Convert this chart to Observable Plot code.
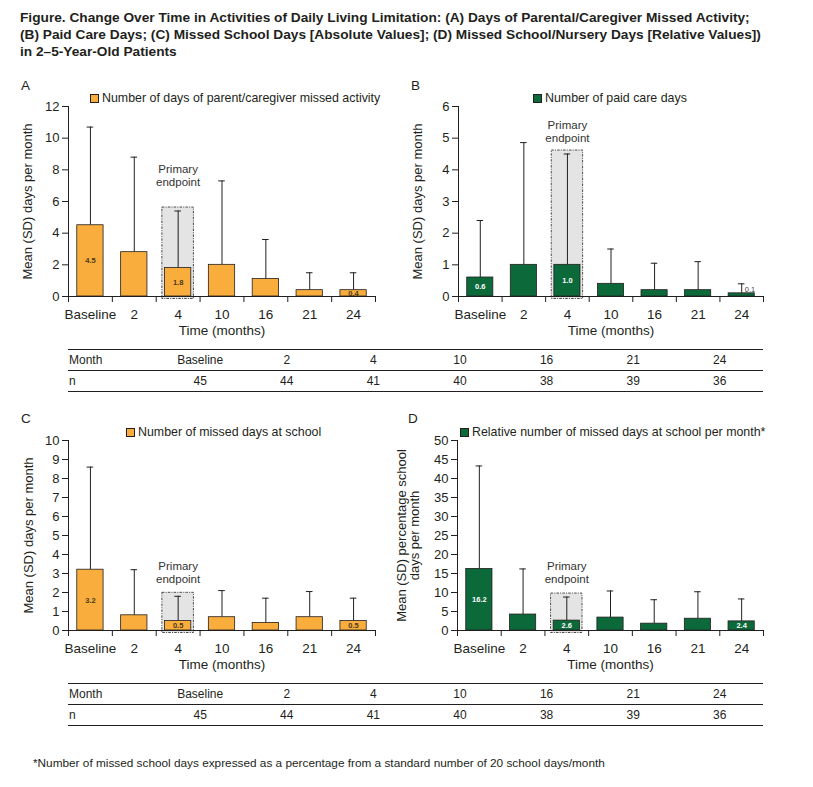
<!DOCTYPE html>
<html>
<head>
<meta charset="utf-8">
<script src="https://cdn.jsdelivr.net/npm/d3@7"></script>
<script src="https://cdn.jsdelivr.net/npm/@observablehq/plot@0.6"></script>
<style>
  body { margin: 0; background: #fff; }
  #page { position: relative; width: 813px; height: 787px; overflow: hidden; font-family: "Liberation Sans", Arial, Helvetica, sans-serif; color: #231f20; }
  .abs { position: absolute; }
  .title { left: 20px; top: 9px; font-weight: bold; font-size: 13.7px; line-height: 17px; white-space: nowrap; }
  .plabel { font-size: 13.5px; }
  .legend { font-size: 12.4px; white-space: nowrap; display: flex; align-items: center; }
  .legend .sw { width: 7px; height: 7px; border: 0.8px solid #231f20; margin-right: 3px; }
  .tbl { left: 68px; width: 695px; border-top: 1px solid #231f20; font-size: 12px; }
  .tbl .row { display: flex; border-bottom: 1px solid #231f20; height: 20px; align-items: center; }
  .tbl .row .c0 { width: 88px; text-align: left; padding-left: 1px; }
  .tbl .row .c { width: 86.7px; text-align: center; }
  .foot { left: 33px; top: 756px; font-size: 11.8px; white-space: nowrap; }
</style>
</head>
<body>
<div id="page"></div>
<script>
// ---- data ----
const months = ["Baseline", "2", "4", "10", "16", "21", "24"];
const nPatients = [45, 44, 41, 40, 38, 39, 36];
const primaryMonth = "4";
const labelledMonths = ["Baseline", "4", "24"];

const caregiverMean = [4.5, 2.8, 1.8, 2.0, 1.1, 0.4, 0.4];
const caregiverSD   = [6.2, 6.0, 3.6, 5.3, 2.5, 1.1, 1.1];

const paidCareMean = [0.6, 1.0, 1.0, 0.4, 0.2, 0.2, 0.1];
const paidCareSD   = [1.8, 3.86, 3.5, 1.1, 0.85, 0.9, 0.3];

const schoolMean = [3.2, 0.8, 0.5, 0.7, 0.4, 0.7, 0.5];
const schoolSD   = [5.4, 2.4, 1.3, 1.4, 1.3, 1.35, 1.2];

const relativeMean = [16.2, 4.2, 2.6, 3.4, 1.8, 3.1, 2.4];
const relativeSD   = [27.1, 12.0, 6.2, 7.0, 6.3, 7.1, 5.9];

const yTicksA = [0, 2, 4, 6, 8, 10, 12];
const yTicksB = [0, 1, 2, 3, 4, 5, 6];
const yTicksC = [0, 1, 2, 3, 4, 5, 6, 7, 8, 9, 10];
const yTicksD = [0, 5, 10, 15, 20, 25, 30, 35, 40, 45, 50];

const ORANGE = "#f8ad3c";
const GREEN = "#0c693a";
const INK = "#231f20";
const FONT = "'Liberation Sans', Arial, Helvetica, sans-serif";

const page = document.getElementById("page");

function addDiv(cls, html, style) {
  const d = document.createElement("div");
  d.className = "abs " + cls;
  d.innerHTML = html;
  Object.assign(d.style, style || {});
  page.appendChild(d);
  return d;
}

addDiv("title",
  "Figure. Change Over Time in Activities of Daily Living Limitation: (A) Days of Parental/Caregiver Missed Activity;<br>" +
  "(B) Paid Care Days; (C) Missed School Days [Absolute Values]; (D) Missed School/Nursery Days [Relative Values])<br>" +
  "in 2\u20135-Year-Old Patients");

function panel(cfg) {
  const {mean, sd, ymax, yticks, color, ylabel, labelOffset, width, marginLeft, marginRight, noteGap, labelDark} = cfg;
  const data = months.map((m, i) => ({i, m, mean: mean[i], top: mean[i] + sd[i]}));
  const boundaries = d3.range(months.length + 1).map(k => k - 0.5);
  const idx = d3.range(months.length);
  const pi = months.indexOf(primaryMonth);
  const primary = [data[pi]];
  const plotH = 190;
  const lab = data.filter(d => labelledMonths.includes(d.m));
  const inside = lab.filter(d => d.mean / ymax * plotH >= 5);
  const outside = lab.filter(d => d.mean / ymax * plotH < 5);
  return Plot.plot({
    width, height: 260, marginLeft, marginRight, marginTop: 26, marginBottom: 44,
    style: {fontFamily: FONT, fontSize: "13.5px", color: INK, background: "transparent", overflow: "visible"},
    x: {domain: [-0.5, months.length - 0.5]},
    y: {domain: [0, ymax]},
    marks: [
      Plot.rect(primary, {x1: d => d.i - 0.36, x2: d => d.i + 0.36, y1: 0, y2: "top", insetTop: -3.5, insetBottom: -2.5,
        fill: "#e4e4e4", stroke: INK, strokeWidth: 0.8, strokeDasharray: "2.5,1.2,1,1.2"}),
      Plot.text(primary, {x: "i", y: "top", text: () => "Primary\nendpoint", dy: -3.5 - noteGap, lineAnchor: "bottom",
        fontSize: 11.5, lineHeight: 1.12, fill: "#333"}),
      Plot.ruleX(data, {x: "i", y1: "mean", y2: "top", stroke: INK, strokeWidth: 1}),
      Plot.ruleY(data, {y: "top", x1: d => d.i - 0.075, x2: d => d.i + 0.075, stroke: INK, strokeWidth: 1}),
      Plot.rect(data, {x1: d => d.i - 0.3, x2: d => d.i + 0.3, y1: 0, y2: "mean", fill: color, stroke: INK, strokeWidth: 0.8}),
      Plot.text(inside, {x: "i", y: d => d.mean / 2, text: d => d.mean.toFixed(1), fontSize: 7.5, fontWeight: "bold",
        fill: labelDark ? "#4a3a20" : "#fff"}),
      Plot.text(outside, {x: "i", y: "mean", text: d => d.mean.toFixed(1), dx: 3, dy: -1, textAnchor: "start", lineAnchor: "bottom",
        fontSize: 7.5, fill: "#444"}),
      Plot.ruleX([-0.5], {stroke: INK, strokeWidth: 1}),
      Plot.ruleY([0], {stroke: INK, strokeWidth: 1}),
      Plot.axisY(yticks, {tickSize: 6, tickPadding: 3, fontSize: 13, stroke: INK, label: ylabel, labelAnchor: "center", labelArrow: "none", labelOffset}),
      Plot.axisX(boundaries, {tickSize: 6, tickFormat: () => "", label: null, stroke: INK}),
      Plot.axisX(idx, {tickSize: 0, tickPadding: 13, tickFormat: i => months[i], fontSize: 13.5,
        label: "Time (months)", labelAnchor: "center", labelArrow: "none", labelOffset: 38})
    ]
  });
}

function place(svg, left, top) {
  svg.style.position = "absolute";
  svg.style.left = left + "px";
  svg.style.top = top + "px";
  page.appendChild(svg);
}

place(panel({mean: caregiverMean, sd: caregiverSD, ymax: 12, yticks: yTicksA, color: ORANGE, labelDark: true,
  ylabel: "Mean (SD) days per month", labelOffset: 46, width: 400, marginLeft: 68, marginRight: 25, noteGap: 22}), 0, 80);
place(panel({mean: paidCareMean, sd: paidCareSD, ymax: 6, yticks: yTicksB, color: GREEN, labelDark: false,
  ylabel: "Mean (SD) days per month", labelOffset: 46, width: 413, marginLeft: 58, marginRight: 50, noteGap: 9}), 400, 80);
place(panel({mean: schoolMean, sd: schoolSD, ymax: 10, yticks: yTicksC, color: ORANGE, labelDark: true,
  ylabel: "Mean (SD) days per month", labelOffset: 45, width: 400, marginLeft: 68, marginRight: 25, noteGap: 10}), 0, 414);
place(panel({mean: relativeMean, sd: relativeSD, ymax: 50, yticks: yTicksD, color: GREEN, labelDark: false,
  ylabel: "Mean (SD) percentage school\ndays per month", labelOffset: 61, width: 413, marginLeft: 57, marginRight: 50, noteGap: 11}), 400, 414);

// panel letters
addDiv("plabel", "A", {left: "21px", top: "78px"});
addDiv("plabel", "B", {left: "411px", top: "78px"});
addDiv("plabel", "C", {left: "21px", top: "411px"});
addDiv("plabel", "D", {left: "408px", top: "411px"});

// legends
function legend(text, color, left, top) {
  addDiv("legend", `<span class="sw" style="background:${color}"></span><span>${text}</span>`, {left: left + "px", top: top + "px"});
}
legend("Number of days of parent/caregiver missed activity", ORANGE, 90, 91);
legend("Number of paid care days", GREEN, 533, 91);
legend("Number of missed days at school", ORANGE, 126, 425);
legend("Relative number of missed days at school per month*", GREEN, 460, 425);

// tables
function table(top) {
  const r1 = `<div class="row"><div class="c0">Month</div>${months.map(m => `<div class="c">${m}</div>`).join("")}</div>`;
  const r2 = `<div class="row"><div class="c0">n</div>${nPatients.map(n => `<div class="c">${n}</div>`).join("")}</div>`;
  addDiv("tbl", r1 + r2, {top: top + "px"});
}
table(349);
table(683);

addDiv("foot", "*Number of missed school days expressed as a percentage from a standard number of 20 school days/month");
</script>
</body>
</html>
